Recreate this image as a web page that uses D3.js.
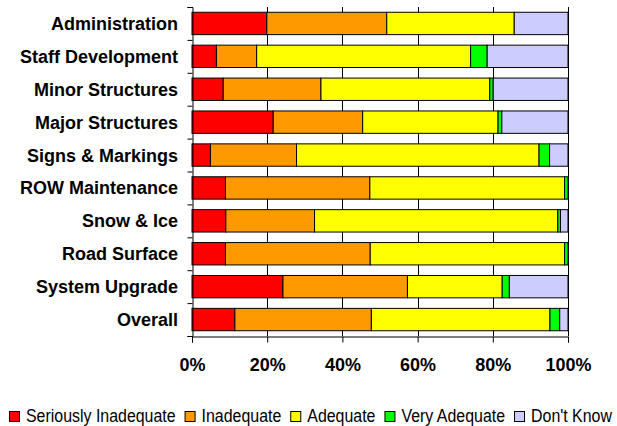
<!DOCTYPE html>
<html>
<head>
<meta charset="utf-8">
<script src="https://cdn.jsdelivr.net/npm/d3@7"></script>
<style>
  html, body { margin: 0; padding: 0; background: #fff; }
  svg { display: block; }
</style>
</head>
<body>
<svg id="chart" width="617" height="426"></svg>
<script>
// Survey categories, top to bottom
const categories = [
  "Administration", "Staff Development", "Minor Structures", "Major Structures",
  "Signs & Markings", "ROW Maintenance", "Snow & Ice", "Road Surface",
  "System Upgrade", "Overall"
];

// Response shares (percent) per category, one array per rating
const seriouslyInadequate = [19.9, 6.5, 8.3, 21.6, 4.9, 8.9, 9.0, 8.9, 24.2, 11.4];
const inadequate          = [31.9, 10.7, 26.0, 23.8, 22.9, 38.4, 23.6, 38.5, 33.1, 36.3];
const adequate            = [33.9, 56.9, 44.9, 36.0, 64.5, 51.8, 64.7, 51.7, 25.2, 47.5];
const veryAdequate        = [0.0, 4.4, 0.9, 1.0, 2.8, 0.9, 0.7, 0.9, 1.9, 2.6];
const dontKnow            = [14.3, 21.5, 19.9, 17.6, 4.9, 0.0, 2.0, 0.0, 15.6, 2.2];

const seriesNames = ["Seriously Inadequate", "Inadequate", "Adequate", "Very Adequate", "Don't Know"];
const seriesColors = ["#FF0000", "#FF9900", "#FFFF00", "#00FF00", "#CCCCFF"];

const tickValues = [0, 20, 40, 60, 80, 100];

const seriesValues = [seriouslyInadequate, inadequate, adequate, veryAdequate, dontKnow];

// Build rows normalised to 100%
const rows = categories.map((c, i) => {
  const row = { category: c };
  seriesNames.forEach((s, j) => { row[s] = seriesValues[j][i]; });
  return row;
});

const stacked = d3.stack().keys(seriesNames).offset(d3.stackOffsetExpand)(rows);

const svg = d3.select("#chart");
const plotLeft = 192, plotRight = 568, plotTop = 7, plotBottom = 336;

const x = d3.scaleLinear().domain([0, 1]).range([plotLeft, plotRight]);
const y = d3.scaleBand().domain(categories).range([plotTop, plotBottom])
  .paddingInner(0.32).paddingOuter(0.16);
const color = d3.scaleOrdinal().domain(seriesNames).range(seriesColors);

// Vertical gridlines
svg.append("g")
  .selectAll("line")
  .data(tickValues.slice(1))
  .join("line")
  .attr("x1", d => Math.round(x(d / 100)) + 0.5)
  .attr("x2", d => Math.round(x(d / 100)) + 0.5)
  .attr("y1", plotTop)
  .attr("y2", plotBottom)
  .attr("stroke", "#000")
  .attr("stroke-width", 1);

// Stacked bars
svg.append("g")
  .selectAll("g")
  .data(stacked)
  .join("g")
  .attr("fill", d => color(d.key))
  .selectAll("rect")
  .data(d => d.filter(p => p[1] - p[0] > 0))
  .join("rect")
  .attr("x", d => x(d[0]))
  .attr("y", d => y(d.data.category))
  .attr("width", d => x(d[1]) - x(d[0]))
  .attr("height", y.bandwidth())
  .attr("stroke", "#000")
  .attr("stroke-width", 1);

// Left axis: ticks at category boundaries
const yEdge = d3.scaleLinear().domain([0, categories.length]).range([plotTop, plotBottom]);
svg.append("g")
  .attr("transform", `translate(${plotLeft + 0.5},0)`)
  .call(d3.axisLeft(yEdge).tickValues(d3.range(categories.length + 1)).tickSize(5).tickFormat(""))
  .call(g => g.select(".domain").attr("stroke", "#000"));

// Category labels
svg.append("g")
  .selectAll("text")
  .data(categories)
  .join("text")
  .attr("x", 178)
  .attr("y", d => y(d) + y.bandwidth() / 2)
  .attr("dy", "0.36em")
  .attr("text-anchor", "end")
  .attr("font-family", "'Liberation Sans', Arial, sans-serif")
  .attr("font-weight", "bold")
  .attr("font-size", "18px")
  .attr("fill", "#000")
  .text(d => d);

// Bottom axis
const xAxis = svg.append("g")
  .attr("transform", `translate(0,${plotBottom + 0.5})`)
  .call(d3.axisBottom(x).tickValues(tickValues.map(v => v / 100)).tickSize(6).tickPadding(16)
    .tickFormat(d3.format(".0%")));
xAxis.select(".domain").attr("stroke", "#000");
xAxis.selectAll(".tick line").attr("stroke", "#000");
xAxis.selectAll(".tick text")
  .attr("font-family", "'Liberation Sans', Arial, sans-serif")
  .attr("font-weight", "bold")
  .attr("font-size", "18px")
  .attr("fill", "#000");

// Legend (condensed text via horizontal scale)
const narrow = 0.9;
const legend = svg.append("g").attr("transform", "translate(0,422)");
let lx = 9;
seriesNames.forEach((name, i) => {
  const item = legend.append("g");
  item.append("rect")
    .attr("x", lx + 0.5).attr("y", -10.5)
    .attr("width", 10).attr("height", 10)
    .attr("fill", seriesColors[i])
    .attr("stroke", "#000").attr("stroke-width", 1);
  const t = item.append("text")
    .attr("transform", `translate(${lx + 17},0) scale(${narrow},1)`)
    .attr("font-family", "'Liberation Sans', Arial, sans-serif")
    .attr("font-size", "17.7px")
    .attr("fill", "#000")
    .text(name);
  lx += 17 + t.node().getComputedTextLength() * narrow + 9;
});
</script>
</body>
</html>
